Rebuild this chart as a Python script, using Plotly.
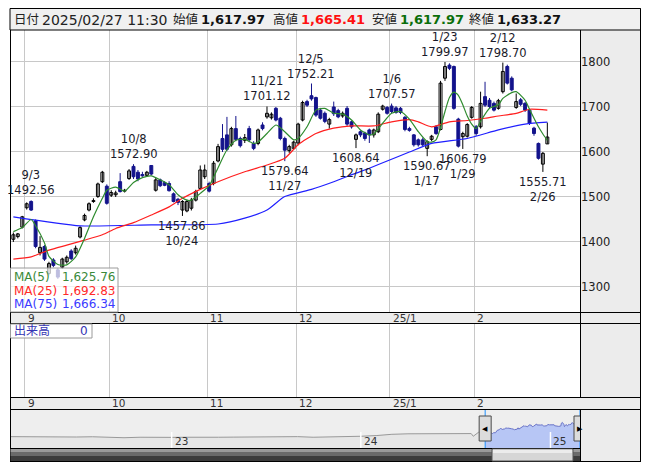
import plotly.graph_objects as go

# page offset: the html body has an 8px margin
OFF = 8
FW, FH = 636, 454

dates = ["2024-08-28","2024-08-29","2024-08-30",
 "2024-09-02","2024-09-03","2024-09-04","2024-09-05","2024-09-06","2024-09-09","2024-09-10","2024-09-11","2024-09-12","2024-09-13",
 "2024-09-17","2024-09-18","2024-09-19","2024-09-20","2024-09-24","2024-09-25","2024-09-26","2024-09-27","2024-09-30",
 "2024-10-01","2024-10-02","2024-10-03","2024-10-04","2024-10-07","2024-10-08","2024-10-09","2024-10-10","2024-10-11",
 "2024-10-15","2024-10-16","2024-10-17","2024-10-18","2024-10-21","2024-10-22","2024-10-23","2024-10-24","2024-10-25",
 "2024-10-28","2024-10-29","2024-10-30","2024-10-31",
 "2024-11-01","2024-11-05","2024-11-06","2024-11-07","2024-11-08","2024-11-11","2024-11-12","2024-11-13","2024-11-14","2024-11-15",
 "2024-11-18","2024-11-19","2024-11-20","2024-11-21","2024-11-22","2024-11-25","2024-11-26","2024-11-27","2024-11-28","2024-11-29",
 "2024-12-02","2024-12-03","2024-12-04","2024-12-05","2024-12-06","2024-12-09","2024-12-10","2024-12-11","2024-12-12","2024-12-13",
 "2024-12-16","2024-12-17","2024-12-18","2024-12-19","2024-12-20","2024-12-23","2024-12-24","2024-12-25","2024-12-26","2024-12-27","2024-12-30",
 "2025-01-06","2025-01-07","2025-01-08","2025-01-09","2025-01-10","2025-01-14","2025-01-15","2025-01-16","2025-01-17",
 "2025-01-20","2025-01-21","2025-01-22","2025-01-23","2025-01-24","2025-01-27","2025-01-28","2025-01-29","2025-01-30","2025-01-31",
 "2025-02-03","2025-02-04","2025-02-05","2025-02-06","2025-02-07","2025-02-10","2025-02-12","2025-02-13","2025-02-14",
 "2025-02-17","2025-02-18","2025-02-19","2025-02-20","2025-02-21","2025-02-25","2025-02-26","2025-02-27"]

opens = [1406,1412,1433,
 1476,1490,1447,1376,1390,1330,1360,1338,1344,1356,
 1380,1376,1411,1449,1471,1490,1501,1534,1524,
 1504,1505,1534,1513,1541,1568,1555,1550,1548,
 1570,1515,1538,1532,1530,1507,1495,1471,1469,
 1475,1493,1519,1545,
 1530,1530,1580,1630,1638,1616,1652,1630,1626,1652,
 1619,1619,1660,1678,1676,1697,1675,1630,1603,1608,
 1620,1671,1712,1725,1721,1693,1686,1662,1700,1692,
 1680,1697,1667,1628,1645,1642,1649,1638,1645,1695,1699,
 1702,1698,1697,1677,1652,1638,1627,1627,1608,
 1628,1656,1650,1764,1793,1790,1673,1634,1635,1677,
 1656,1656,1723,1715,1708,1697,1734,1790,1764,
 1699,1716,1708,1693,1653,1619,1573,1617.97]
highs = [1421,1420,1458,
 1488,1492.56,1450,1413,1393,1356,1364,1342,1365,1370,
 1384,1392,1435,1463,1488,1497,1532,1558,1528,
 1515,1514,1553,1518,1562,1572.90,1560,1556,1558,
 1571,1542,1541,1535,1535,1510,1498,1493,1494,
 1498,1516,1570,1572,
 1534,1580,1618,1662,1678,1656,1680,1634,1640,1658,
 1624,1652,1666,1701.12,1688,1700,1678,1634,1616,1625,
 1665,1714,1716,1752.21,1723,1698,1690,1676,1712,1696,
 1690,1702,1670,1641,1648,1645,1652,1652,1688,1705,1702,
 1707.57,1702,1700,1680,1656,1640,1630,1632,1626,
 1638,1660,1758,1799.97,1797,1792,1676,1645,1664,1702,
 1660,1734,1756,1720,1712,1718,1798.70,1794,1768,
 1730,1720,1711,1696,1656,1621,1600,1665.41]
lows = [1400,1408,1430,
 1472,1469,1386,1370,1358,1326,1344,1318,1340,1352,
 1360,1372,1408,1446,1468,1487,1498,1531,1483,
 1500,1500,1510,1510,1538,1540,1535,1545,1545,
 1548,1512,1522,1524,1512,1488,1482,1457.86,1466,
 1470,1490,1516,1540,
 1510,1526,1577,1600,1602,1612,1624,1610,1620,1622,
 1604,1615,1648,1674,1672,1668,1626,1579.64,1598,1605,
 1615,1668,1700,1714,1678,1672,1664,1652,1680,1675,
 1676,1658,1652,1608.64,1633,1625,1620,1632,1642,1692,1683,
 1686,1685,1684,1646,1645,1612,1612,1613,1590.67,
 1624,1638,1648,1758,1782,1694,1610,1606.79,1632,1674,
 1636,1652,1700,1697,1690,1694,1730,1750,1735,
 1696,1702,1689,1660,1636,1583,1555.71,1617.97]
closes = [1416,1418,1456,
 1485,1471,1390,1388,1362,1352,1348,1322,1362,1366,
 1363,1386,1432,1459,1485,1492,1529,1555,1486,
 1510,1509,1512,1515,1558,1545,1540,1547,1555,
 1551,1538,1525,1526,1514,1490,1488,1490,1490,
 1493,1512,1560,1560,
 1513,1575,1612,1606,1606,1652,1628,1614,1632,1627,
 1608,1649,1652,1686,1684,1671,1630,1604,1612,1622,
 1662,1710,1704,1718,1682,1675,1668,1672,1685,1678,
 1686,1662,1656,1638,1638,1630,1638,1649,1684,1702,1686,
 1690,1688,1688,1650,1648,1616,1616,1616,1623,
 1635,1641,1753,1790,1786,1697,1613,1641,1661,1699,
 1641,1708,1704,1701,1693,1714,1779,1753,1738,
 1712,1706,1693,1664,1641,1586,1597,1633.27]

ma5_days = ["2024-08-28","2024-08-30","2024-09-03","2024-09-04","2024-09-06","2024-09-09","2024-09-11","2024-09-13",
 "2024-09-18","2024-09-20","2024-09-25","2024-09-27","2024-09-30","2024-10-02","2024-10-04","2024-10-08","2024-10-10",
 "2024-10-15","2024-10-17","2024-10-21","2024-10-23","2024-10-25","2024-10-28","2024-10-30","2024-11-01","2024-11-06",
 "2024-11-08","2024-11-12","2024-11-14","2024-11-18","2024-11-19","2024-11-21","2024-11-25","2024-11-27","2024-11-29",
 "2024-12-02","2024-12-04","2024-12-06","2024-12-10","2024-12-12","2024-12-16","2024-12-18","2024-12-20","2024-12-24",
 "2024-12-25","2024-12-27","2025-01-06","2025-01-08","2025-01-10","2025-01-15","2025-01-17","2025-01-20","2025-01-21",
 "2025-01-22","2025-01-23","2025-01-24","2025-01-27","2025-01-28","2025-01-29","2025-01-30","2025-01-31","2025-02-03",
 "2025-02-04","2025-02-06","2025-02-10","2025-02-12","2025-02-14","2025-02-17","2025-02-19","2025-02-20","2025-02-21",
 "2025-02-25","2025-02-26","2025-02-27"]
ma5_vals = [1423,1432,1450,1436,1398,1368,1350,1349,
 1367,1408,1456,1497,1515,1522,1513,1532,1543,
 1547,1538,1527,1505,1493,1493,1508,1525,1565,
 1605,1626,1628,1619,1622,1641,1660,1645,1627,
 1630,1656,1693,1697,1686,1684,1671,1649,1638,
 1640,1664,1686,1690,1673,1645,1623,1622,1627,
 1654,1690,1721,1733,1726,1705,1680,1662,1652,
 1668,1697,1705,1719,1732,1734,1715,1695,1675,
 1656,1640,1625.76]

ma25_days = ["2024-08-28","2024-09-03","2024-09-09","2024-09-13","2024-09-20","2024-09-27","2024-10-02","2024-10-08",
 "2024-10-15","2024-10-21","2024-10-24","2024-10-30","2024-11-06","2024-11-14","2024-11-21","2024-11-27","2024-12-02",
 "2024-12-06","2024-12-12","2024-12-18","2024-12-25","2025-01-06","2025-01-10","2025-01-15","2025-01-20","2025-01-24",
 "2025-01-30","2025-02-05","2025-02-10","2025-02-17","2025-02-20","2025-02-27"]
ma25_vals = [1362,1367,1382,1393,1404,1416,1430,1443,
 1460,1478,1497,1517,1534,1556,1571,1586,1616,
 1641,1653,1658,1658,1667,1672,1667,1656,1667,
 1670,1675,1680,1686,1695,1692.83]

ma75_days = ["2024-08-28","2024-09-19","2024-10-15","2024-11-06","2024-11-14","2024-11-21","2024-11-27","2024-12-05",
 "2024-12-12","2024-12-19","2024-12-24","2024-12-30","2025-01-10","2025-01-20","2025-01-30","2025-02-10","2025-02-19",
 "2025-02-27"]
ma75_vals = [1456,1436,1438,1440,1453,1471,1501,1517,
 1534,1553,1564,1580,1600,1619,1630,1649,1662,
 1666.34]

month_labels = ["9","10","11","12","25/1","2"]
month_firsts = ["2024-09-02","2024-10-01","2024-11-01","2024-12-02","2025-01-06","2025-02-03"]

peak_days = ["2024-09-03","2024-10-08","2024-11-21","2024-12-05","2025-01-06","2025-01-23","2025-02-12"]
trough_days = ["2024-10-24","2024-11-27","2024-12-19","2025-01-17","2025-01-29","2025-02-26"]

header_time = "11:30"
volume_total = 0

nav_hist_days = ["2022-02-23","2022-04-01","2022-05-01","2022-06-01","2022-07-01","2022-08-01","2022-09-01","2022-10-01",
 "2022-11-01","2022-12-01","2023-01-01","2023-02-01","2023-03-01","2023-04-01","2023-05-01","2023-06-01","2023-07-01",
 "2023-08-01","2023-09-01","2023-10-01","2023-11-01","2023-12-01","2024-01-01","2024-02-01","2024-03-01","2024-04-01",
 "2024-05-01","2024-06-01","2024-07-01","2024-08-01","2024-08-05","2024-08-15","2024-08-27"]
nav_hist_vals = [1205,1195,1190,1175,1190,1200,1170,1160,
 1180,1170,1175,1180,1170,1180,1185,1195,1190,
 1200,1205,1180,1190,1195,1220,1250,1300,1320,
 1330,1320,1340,1330,1220,1380,1410]
nav_year_labels = ["23","24","25"]
nav_year_days = ["2023-01-01","2024-01-01","2025-01-01"]


def P(x):
    return (x - OFF) / FW


def Q(y):
    return 1 - (y - OFF) / FH


idx = {d: i for i, d in enumerate(dates)}
n = len(dates)
FONT = "DejaVu Sans, Noto Sans CJK JP, sans-serif"
NAVY = "#14148c"

fig = go.Figure()

def wicks(ids):
    xs, ys = [], []
    for i in ids:
        xs += [i, i, None]
        ys += [lows[i], highs[i], None]
    return xs, ys

up = [i for i in range(n) if closes[i] >= opens[i]]
dn = [i for i in range(n) if closes[i] < opens[i]]
wx, wy = wicks(up)
fig.add_trace(go.Scatter(x=wx, y=wy, mode="lines", line=dict(color="#000000", width=1), hoverinfo="skip"))
wx, wy = wicks(dn)
fig.add_trace(go.Scatter(x=wx, y=wy, mode="lines", line=dict(color=NAVY, width=1), hoverinfo="skip"))

fig.add_trace(go.Bar(x=up, y=[max(closes[i] - opens[i], 0.8) for i in up], base=[opens[i] for i in up],
                     width=0.66, marker=dict(color="#ffffff", line=dict(color="#000000", width=1))))
fig.add_trace(go.Bar(x=dn, y=[opens[i] - closes[i] for i in dn], base=[closes[i] for i in dn],
                     width=0.66, marker=dict(color=NAVY, line=dict(color=NAVY, width=1))))

fig.add_trace(go.Scatter(x=[idx[d] for d in ma75_days], y=ma75_vals, mode="lines",
                         line=dict(color="#1f1fff", width=1.2, shape="spline", smoothing=0.6)))
fig.add_trace(go.Scatter(x=[idx[d] for d in ma25_days], y=ma25_vals, mode="lines",
                         line=dict(color="#ff1f1f", width=1.2, shape="spline", smoothing=0.6)))
fig.add_trace(go.Scatter(x=[idx[d] for d in ma5_days], y=ma5_vals, mode="lines",
                         line=dict(color="#2e8b2e", width=1.2, shape="spline", smoothing=0.6)))

fig.add_trace(go.Scatter(x=[0], y=[-1], mode="markers", marker=dict(opacity=0), xaxis="x2", yaxis="y2", hoverinfo="skip"))

fig.add_trace(go.Scatter(x=nav_hist_days, y=nav_hist_vals, mode="lines", xaxis="x3", yaxis="y3",
                         line=dict(color="#999999", width=1), fill="tozeroy", fillcolor="#e6e6e6", hoverinfo="skip"))
fig.add_trace(go.Scatter(x=dates, y=closes, mode="lines", xaxis="x3", yaxis="y3",
                         line=dict(color="#6a74c8", width=1), fill="tozeroy", fillcolor="#b7c6f5", hoverinfo="skip"))

grid_x = [idx[d] - 0.4 for d in month_firsts]
x_range = [-0.753, 127.34]
GRID = "#c8c8c8"

fig.update_layout(
    width=FW, height=FH, margin=dict(l=0, r=0, t=0, b=0),
    paper_bgcolor="#ffffff", plot_bgcolor="rgba(0,0,0,0)",
    showlegend=False, barmode="overlay", font=dict(family=FONT, size=12, color="#222222"),
    xaxis=dict(domain=[P(10), P(580)], range=x_range, tickvals=grid_x, showticklabels=False,
               showgrid=True, gridcolor=GRID, gridwidth=1, zeroline=False, showline=False, ticks="", fixedrange=True),
    yaxis=dict(domain=[Q(312), Q(30)], range=[1244.4, 1871.1], side="right", tickmode="linear", tick0=1300, dtick=100,
               showgrid=True, gridcolor=GRID, gridwidth=1, zeroline=False, showline=False, ticks="",
               tickfont=dict(family=FONT, size=11.5, color="#222222"), fixedrange=True),
    xaxis2=dict(domain=[P(10), P(580)], range=x_range, anchor="y2", tickvals=grid_x, showticklabels=False,
                showgrid=True, gridcolor=GRID, zeroline=False, showline=False, ticks="", fixedrange=True),
    yaxis2=dict(domain=[Q(397), Q(323)], range=[0, 1], anchor="x2", showgrid=False, showticklabels=False,
                zeroline=False, fixedrange=True),
    xaxis3=dict(domain=[P(10), P(580)], type="date", range=["2022-02-23", "2025-02-27"], anchor="y3",
                showgrid=False, showticklabels=False, zeroline=False, fixedrange=True),
    yaxis3=dict(domain=[Q(448), Q(410)], range=[741, 2292], anchor="x3", showgrid=False, showticklabels=False,
                zeroline=False, fixedrange=True),
)

shapes = []
def rect(x0, y0, x1, y1, fill, line=None, lw=1, layer="below"):
    shapes.append(dict(type="rect", xref="paper", yref="paper", x0=P(x0), x1=P(x1), y0=Q(y1), y1=Q(y0),
                       fillcolor=fill, line=dict(color=line or "rgba(0,0,0,0)", width=lw if line else 0), layer=layer))

def hline(x0, x1, y, color="#000000", layer="above"):
    shapes.append(dict(type="line", xref="paper", yref="paper", x0=P(x0), x1=P(x1), y0=Q(y), y1=Q(y),
                       line=dict(color=color, width=1), layer=layer))

def vline(x, y0, y1, color="#000000", layer="above", width=1):
    shapes.append(dict(type="line", xref="paper", yref="paper", x0=P(x), x1=P(x), y0=Q(y0), y1=Q(y1),
                       line=dict(color=color, width=width), layer=layer))

GREYBG = "#ececec"
rect(10, 30, 580, 312, "#ffffff")
rect(580, 30, 640.5, 462, GREYBG)
rect(10, 312, 640.5, 323, GREYBG)
rect(10, 323, 580, 397, "#ffffff")
rect(10, 397, 640.5, 409, GREYBG)
rect(10, 409, 580, 448, "#eeeeee")
rect(10, 8.5, 640.5, 30, "#f0f0f0", "#000000", 1, "above")
vline(10.5, 30, 462)
vline(580.5, 30, 397)
vline(640.5, 8.5, 462)
hline(10, 640.5, 312.5)
hline(10, 640.5, 323.5)
hline(10, 640.5, 397.5)
hline(10, 640.5, 409.5)
hline(10, 580.5, 448.5)
hline(10, 640.5, 461.5)
vline(580.5, 409, 462)

rect(10.5, 268, 118, 312, "rgba(255,255,255,0.72)", "#9a9a9a", 1, "above")
rect(10.5, 324, 92, 338, "rgba(255,255,255,0.75)", "#9a9a9a", 1, "above")

for d in [dates[0], dates[-1]]:
    shapes.append(dict(type="line", xref="x3", yref="paper", x0=d, x1=d, y0=Q(448), y1=Q(410),
                       line=dict(color="#1e90ff", width=1), layer="above"))
for d in nav_year_days:
    shapes.append(dict(type="line", xref="x3", yref="paper", x0=d, x1=d, y0=Q(448), y1=Q(432),
                       line=dict(color="#ffffff", width=1.5), layer="above"))
for d in [dates[0], dates[-1]]:
    shapes.append(dict(type="rect", xref="x3", yref="paper", xsizemode="pixel", xanchor=d, x0=-6, x1=6,
                       y0=Q(441), y1=Q(416), fillcolor="#dcdcdc", line=dict(color="#4a4a4a", width=1), layer="above"))

rect(10.5, 449, 580, 452, "#9a9a9a", layer="above")
rect(10.5, 452, 580, 456, "#6a6a6a", layer="above")
rect(10.5, 456, 580, 461, "#3c3c3c", layer="above")
sel0 = 492
rect(sel0, 449, 573, 461, "#d6d6d6", "#555555", 1, "above")
rect(sel0 + 1, 449.5, 572, 453, "#ececec", layer="above")

fig.update_layout(shapes=shapes)

ann = []
def text(x, y, s, size=12, color="#222222", xanchor="left", bold=False):
    ann.append(dict(x=P(x), y=Q(y), xref="paper", yref="paper", text=("<b>%s</b>" % s) if bold else s,
                    showarrow=False, xanchor=xanchor, yanchor="middle", font=dict(family=FONT, size=size, color=color)))

def fmt(v):
    return "{:,.2f}".format(v)

last = n - 1
yy, mm, dd = dates[last].split("-")
text(12, 19.5, "日付", 12.5)
text(40, 19.5, "%s/%s/%s %s" % (yy, mm, dd, header_time), 14)
text(171, 19.5, "始値", 12.5)
text(199, 19.5, fmt(opens[last]), 13, "#111111", bold=True)
text(271, 19.5, "高値", 12.5)
text(299, 19.5, fmt(highs[last]), 13, "#ff1010", bold=True)
text(370, 19.5, "安値", 12.5)
text(398, 19.5, fmt(lows[last]), 13, "#0a6e0a", bold=True)
text(467, 19.5, "終値", 12.5)
text(495, 19.5, fmt(closes[last]), 13, "#111111", bold=True)

def md(d):
    _, m, dd_ = d.split("-")
    return "%d/%d" % (int(m), int(dd_))

for d in peak_days:
    i = idx[d]
    ann.append(dict(x=i, y=highs[i], xref="x", yref="y", text="%s<br>%.2f" % (md(d), highs[i]), showarrow=False,
                    xanchor="center", yanchor="bottom", yshift=1, font=dict(family=FONT, size=11.5, color="#1a1a2a"),
                    align="center"))
for d in trough_days:
    i = idx[d]
    ann.append(dict(x=i, y=lows[i], xref="x", yref="y", text="%.2f<br>%s" % (lows[i], md(d)), showarrow=False,
                    xanchor="center", yanchor="top", yshift=-1, font=dict(family=FONT, size=11.5, color="#1a1a2a"),
                    align="center"))

for lab, gx in zip(month_labels, grid_x):
    for ystrip in (317.5, 403):
        ann.append(dict(x=gx, y=Q(ystrip), xref="x", yref="paper", text=lab, showarrow=False, xanchor="left",
                        yanchor="middle", xshift=1, font=dict(family=FONT, size=10.5, color="#333333")))

ma_rows = [("MA(5)", ma5_vals[-1], "#3a8a3a", 277), ("MA(25)", ma25_vals[-1], "#ff2a2a", 290.5),
           ("MA(75)", ma75_vals[-1], "#3a3aff", 304)]
for lab, v, c, yv in ma_rows:
    text(12, yv, lab, 12, c)
    text(117, yv, fmt(v), 12, c, xanchor="right")

text(12, 331, "出来高", 12, "#3434b4")
text(90, 331, str(volume_total), 12, "#3434b4", xanchor="right")

for lab, d in zip(nav_year_labels, nav_year_days):
    ann.append(dict(x=d, y=Q(440.5), xref="x3", yref="paper", text=lab, showarrow=False, xanchor="left",
                    yanchor="middle", xshift=1, font=dict(family=FONT, size=10.5, color="#333333")))
for d, s in [(dates[0], "◀"), (dates[-1], "▶")]:
    ann.append(dict(x=d, y=Q(428.5), xref="x3", yref="paper", text=s, showarrow=False, xanchor="center",
                    yanchor="middle", font=dict(family=FONT, size=7, color="#000000")))

fig.update_layout(annotations=ann)
fig.write_html("out.html")
